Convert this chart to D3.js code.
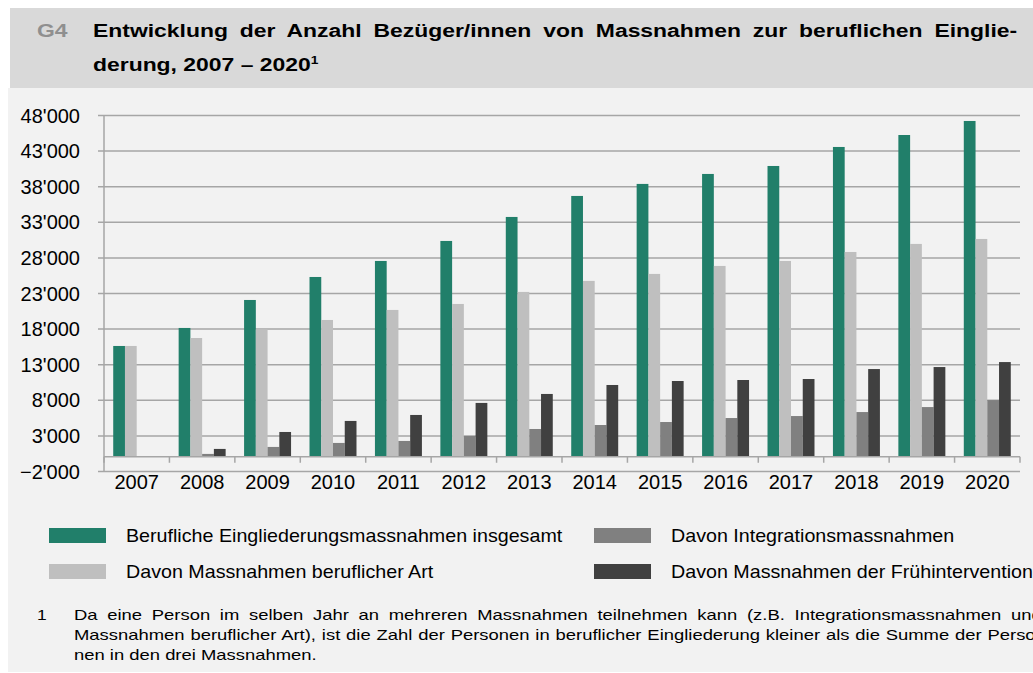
<!DOCTYPE html>
<html>
<head>
<meta charset="utf-8">
<script src="https://cdn.jsdelivr.net/npm/d3@7"></script>
<style>
  html, body { margin: 0; padding: 0; background: #ffffff; }
  #wrap { position: relative; width: 1033px; height: 673px; overflow: hidden; font-family: "Liberation Sans", Arial, sans-serif; }
  svg { position: absolute; left: 0; top: 0; }
  .fn { position: absolute; left: 74px; width: 762px; font-size: 14.5px; color: #000; text-align: justify; text-align-last: justify; white-space: nowrap; line-height: 19px; transform: scaleX(1.27); transform-origin: 0 0; }
  .fn.last { text-align-last: left; }
  #fnnum { position: absolute; left: 37px; font-size: 14.5px; line-height: 19px; transform: scaleX(1.2); transform-origin: 0 0; }
</style>
</head>
<body>
<div id="wrap">
  <svg id="chart" width="1033" height="673"></svg>
</div>
<script>
const years = ["2007","2008","2009","2010","2011","2012","2013","2014","2015","2016","2017","2018","2019","2020"];
const seriesNames = [
  "Berufliche Eingliederungsmassnahmen insgesamt",
  "Davon Massnahmen beruflicher Art",
  "Davon Integrationsmassnahmen",
  "Davon Massnahmen der Frühintervention"
];
const insgesamt     = [15560, 18090, 22020, 25250, 27500, 30310, 33680, 36630, 38320, 39720, 40840, 43510, 45190, 47160];
const beruflicheArt = [15560, 16680, 17900, 19210, 20620, 21460, 23150, 24700, 25680, 26800, 27500, 28760, 29890, 30590];
const integration   = [0, 400, 1380, 1940, 2220, 2920, 3900, 4460, 4880, 5440, 5720, 6280, 6980, 7960];
const fruehint      = [0, 1100, 3480, 5030, 5870, 7560, 8820, 10080, 10640, 10780, 10920, 12320, 12600, 13300];
const yTicks = [-2000, 3000, 8000, 13000, 18000, 23000, 28000, 33000, 38000, 43000, 48000];
const colors = ["#217f6a", "#bfbfbf", "#808080", "#404040"];
const seriesValues = [insgesamt, beruflicheArt, integration, fruehint];

const font = '"Liberation Sans", Arial, sans-serif';
const svg = d3.select("#chart");

function stretchX(sel, x, s) {
  sel.attr("transform", `translate(${x},0) scale(${s},1) translate(${-x},0)`);
}

// backgrounds
svg.append("rect").attr("x", 8).attr("y", 88).attr("width", 1025).attr("height", 584).attr("fill", "#f2f2f2");
svg.append("rect").attr("x", 10).attr("y", 8).attr("width", 1023).attr("height", 80).attr("fill", "#d9d9d9");

// title
const titleScale = 1.31;
const g4 = svg.append("text").attr("x", 37).attr("y", 37).attr("font-family", font).attr("font-size", 17.5)
  .attr("font-weight", "bold").attr("fill", "#8f8f8f").text("G4");
stretchX(g4, 37, titleScale);
const t1 = svg.append("text").attr("x", 93).attr("y", 37).attr("font-family", font).attr("font-size", 17.5)
  .attr("font-weight", "bold").attr("fill", "#000").text("Entwicklung der Anzahl Bezüger/innen von Massnahmen zur beruflichen Einglie-");
let s1 = titleScale;
{
  const nat = t1.node().getComputedTextLength();
  const target = (1018 - 93) / titleScale;
  const nSp = (t1.text().match(/ /g) || []).length;
  if (target >= nat) t1.attr("word-spacing", (target - nat) / nSp);
  else s1 = (1018 - 93) / nat;
}
stretchX(t1, 93, s1);
const t2 = svg.append("text").attr("x", 93).attr("y", 71).attr("font-family", font).attr("font-size", 17.5)
  .attr("font-weight", "bold").attr("fill", "#000");
t2.append("tspan").text("derung, 2007 – 2020");
t2.append("tspan").attr("font-size", 10.5).attr("dy", -7).text("1");
stretchX(t2, 93, titleScale);

// scales
const pLeft = 104, pRight = 1020, pTop = 115, pBottom = 471;
const y = d3.scaleLinear().domain([-2000, 48000]).range([pBottom, pTop]);
const x0 = d3.scaleBand().domain(years).range([pLeft, pRight]).padding(0);
const bw = x0.bandwidth();
const pad = bw * 0.141;
const x1 = d3.scaleBand().domain(d3.range(4)).range([pad, bw - pad]).padding(0);

const gridColor = "#a6a6a6";

// gridlines + y axis
const yAxis = d3.axisLeft(y).tickValues(yTicks).tickSizeOuter(0)
  .tickFormat(d => d3.format(",")(d).replace(/,/g, "'"));
const gy = svg.append("g").attr("transform", `translate(${pLeft},0)`).call(yAxis);
gy.select(".domain").remove();
gy.selectAll(".tick line").attr("x1", -6).attr("x2", pRight - pLeft).attr("stroke", gridColor).attr("stroke-width", 1.5);
gy.selectAll(".tick text").attr("x", -24).attr("dy", "0.35em").attr("font-family", font).attr("font-size", 20).attr("fill", "#000");

svg.append("line").attr("x1", pLeft).attr("x2", pLeft).attr("y1", pTop).attr("y2", pBottom)
  .attr("stroke", gridColor).attr("stroke-width", 1.5);

// bars
const gb = svg.append("g");
seriesValues.forEach((vals, si) => {
  gb.selectAll(null).data(vals).enter().append("rect")
    .attr("x", (d, i) => x0(years[i]) + x1(si))
    .attr("width", x1.bandwidth())
    .attr("y", d => y(Math.max(0, d)))
    .attr("height", d => Math.abs(y(d) - y(0)))
    .attr("fill", colors[si]);
});

// category axis at zero
const y0 = y(0);
svg.append("line").attr("x1", pLeft).attr("x2", pRight).attr("y1", y0).attr("y2", y0)
  .attr("stroke", gridColor).attr("stroke-width", 1.5);
const bounds = years.map(yr => x0(yr)).concat([pRight]);
svg.selectAll(null).data(bounds).enter().append("line")
  .attr("x1", d => d).attr("x2", d => d).attr("y1", y0).attr("y2", y0 + 6)
  .attr("stroke", gridColor).attr("stroke-width", 1.5);
svg.selectAll(null).data(years).enter().append("text")
  .attr("x", d => x0(d) + bw / 2).attr("y", 489).attr("text-anchor", "middle")
  .attr("font-family", font).attr("font-size", 20).attr("fill", "#000").text(d => d);

// legend
const legPos = [[49, 528], [49, 564], [594, 528], [594, 564]];
[0, 1, 2, 3].forEach((si) => {
  const [lx, ly] = legPos[si];
  svg.append("rect").attr("x", lx).attr("y", ly).attr("width", 57).attr("height", 15).attr("fill", colors[si]);
  const lt = svg.append("text").attr("x", lx + 77).attr("y", ly + 14).attr("font-family", font).attr("font-size", 17.5)
    .attr("fill", "#000").text(seriesNames[si]);
  stretchX(lt, lx + 77, 1.125);
});

// footnote
const wrap = d3.select("#wrap");
wrap.append("div").attr("id", "fnnum").style("top", "606px").text("1");
const fnLines = [
  "Da eine Person im selben Jahr an mehreren Massnahmen teilnehmen kann (z.B. Integrationsmassnahmen und",
  "Massnahmen beruflicher Art), ist die Zahl der Personen in beruflicher Eingliederung kleiner als die Summe der Perso-",
  "nen in den drei Massnahmen."
];
fnLines.forEach((ln, i) => {
  wrap.append("div").attr("class", "fn" + (i === 2 ? " last" : "")).style("top", (606 + i * 20) + "px").text(ln);
});
</script>
</body>
</html>
